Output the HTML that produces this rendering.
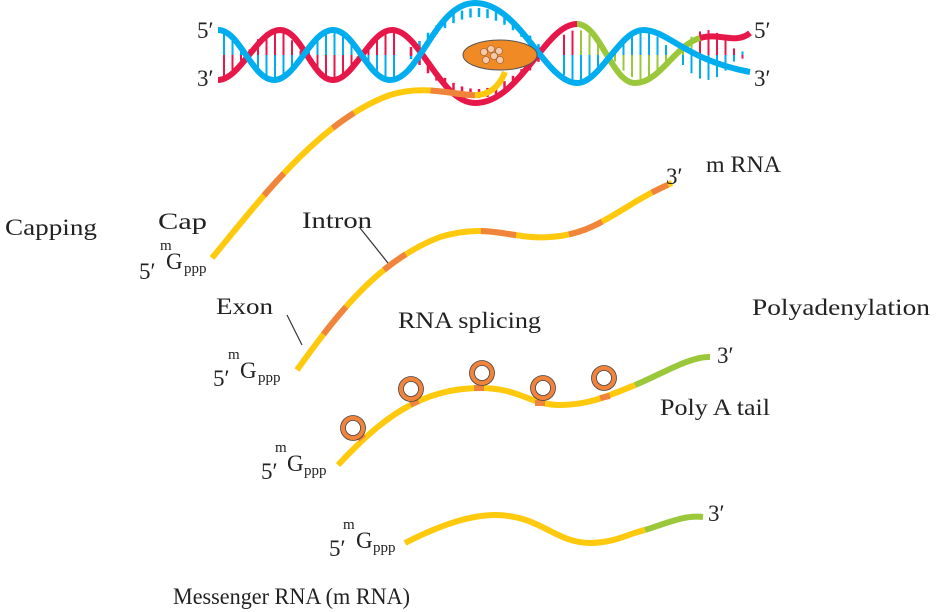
<!DOCTYPE html>
<html><head><meta charset="utf-8"><style>
body{margin:0;background:#fff}
svg{display:block}
text{font-family:"Liberation Serif",serif;fill:#222}
</style></head><body>
<svg id="s" width="940" height="612" viewBox="0 0 940 612" xmlns="http://www.w3.org/2000/svg">
<g id="rungs"></g>
<!-- DNA strands -->
<path d="M218,80 C240,80 258,30 280,30 C302,30 312,80 333,80 C354,80 370,30 392,30 C420,30 440,103 475,103 C520,103 545,24 577,24" fill="none" stroke="#E8174A" stroke-width="6"/>
<path d="M577,24 C600,24 612,83 635,83 C660,83 675,45 700,38" fill="none" stroke="#9AC83A" stroke-width="6"/>
<path d="M700,38 C720,32 735,45 750,33" fill="none" stroke="#E8174A" stroke-width="6"/>
<path d="M218,30 C240,30 252,80 274,80 C296,80 311,30 333,30 C355,30 368,80 390,80 C420,80 435,3 475,3 C520,3 545,83 577,83 C600,83 620,30 643,30 C668,30 685,60 750,72" fill="none" stroke="#00AEEF" stroke-width="6"/>
<!-- polymerase -->
<ellipse cx="500" cy="55" rx="37" ry="15" fill="#F08A24" stroke="#555" stroke-width="1"/>
<g fill="#F7C9A8" stroke="#8a5a3a" stroke-width="0.6">
<circle cx="484" cy="52" r="3.5"/><circle cx="491" cy="49" r="3.5"/><circle cx="499" cy="51" r="3.5"/><circle cx="494" cy="56" r="3.5"/><circle cx="486" cy="60" r="3.5"/><circle cx="500" cy="60" r="3.5"/></g>
<!-- transcript 1 -->
<path d="M212,258 C260,200 320,120 390,95 C420,86 440,92 470,95 C490,97 500,85 505,72" fill="none" stroke="#FFC90D" stroke-width="6" pathLength="100"/>
<path d="M212,258 C260,200 320,120 390,95 C420,86 440,92 470,95 C490,97 500,85 505,72" fill="none" stroke="#F0843C" stroke-width="6" pathLength="100" stroke-dasharray="0 22 8 18 7 22 12 12 6 100"/>
<!-- transcript 2 -->
<path d="M297,370 C340,310 380,260 440,237 C490,222 510,240 550,237 C600,234 620,205 672,183" fill="none" stroke="#FFC90D" stroke-width="6" pathLength="100"/>
<path d="M297,370 C340,310 380,260 440,237 C490,222 510,240 550,237 C600,234 620,205 672,183" fill="none" stroke="#F0843C" stroke-width="6" pathLength="100" stroke-dasharray="0 10 8 12 6 18 8 12 8 13 4 100"/>
<line x1="287" y1="315" x2="302" y2="345" stroke="#333" stroke-width="1.2"/>
<line x1="360" y1="228" x2="388" y2="263" stroke="#333" stroke-width="1.2"/>
<!-- transcript 3 -->
<path d="M338,465 C380,420 420,388 480,388 C520,388 530,405 560,405 C590,405 610,395 635,385" fill="none" stroke="#FFC90D" stroke-width="6"/>
<path d="M635,385 C660,375 690,356 710,357" fill="none" stroke="#9AC83A" stroke-width="6"/>
<g fill="#F0843C">
<rect x="356" y="433" width="8" height="7" transform="rotate(-40 360 436)"/>
<rect x="410" y="400" width="9" height="6" transform="rotate(-25 414 403)"/>
<rect x="474" y="385" width="10" height="6"/>
<rect x="535" y="400" width="10" height="6"/>
<rect x="600" y="394" width="10" height="6" transform="rotate(-12 605 397)"/>
</g>
<g fill="#fff" stroke="#F0843C" stroke-width="5">
<circle cx="353" cy="428" r="10"/><circle cx="411" cy="389" r="10"/><circle cx="482" cy="373" r="10"/><circle cx="543" cy="388" r="10"/><circle cx="604" cy="378" r="10"/></g>
<g fill="none" stroke="#444" stroke-width="0.8">
<circle cx="353" cy="428" r="12.5"/><circle cx="411" cy="389" r="12.5"/><circle cx="482" cy="373" r="12.5"/><circle cx="543" cy="388" r="12.5"/><circle cx="604" cy="378" r="12.5"/>
<circle cx="353" cy="428" r="7.5"/><circle cx="411" cy="389" r="7.5"/><circle cx="482" cy="373" r="7.5"/><circle cx="543" cy="388" r="7.5"/><circle cx="604" cy="378" r="7.5"/></g>
<!-- transcript 4 -->
<path d="M405,543 C440,525 470,515 495,515 C540,515 555,543 590,543 C615,543 630,533 645,530" fill="none" stroke="#FFC90D" stroke-width="6"/>
<path d="M645,530 C670,522 685,515 703,517" fill="none" stroke="#9AC83A" stroke-width="6"/>
<!-- labels -->
<g font-size="23">
<text x="197" y="38">5′</text><text x="197" y="86">3′</text>
<text x="754" y="38">5′</text><text x="754" y="86">3′</text>
<text x="5" y="235" textLength="92" lengthAdjust="spacingAndGlyphs">Capping</text>
<text x="158" y="229" textLength="49" lengthAdjust="spacingAndGlyphs">Cap</text>
<text x="139" y="279">5′</text><text x="166" y="269">G</text>
<text x="302" y="228" textLength="70" lengthAdjust="spacingAndGlyphs">Intron</text>
<text x="666" y="184">3′</text><text x="706" y="172" textLength="75" lengthAdjust="spacingAndGlyphs">m RNA</text>
<text x="216" y="314" textLength="57" lengthAdjust="spacingAndGlyphs">Exon</text>
<text x="398" y="328" textLength="143" lengthAdjust="spacingAndGlyphs">RNA splicing</text>
<text x="752" y="315" textLength="178" lengthAdjust="spacingAndGlyphs">Polyadenylation</text>
<text x="213" y="386">5′</text><text x="240" y="378">G</text>
<text x="717" y="363">3′</text>
<text x="660" y="415" textLength="110" lengthAdjust="spacingAndGlyphs">Poly A tail</text>
<text x="261" y="479">5′</text><text x="287" y="471">G</text>
<text x="329" y="556">5′</text><text x="356" y="548">G</text>
<text x="708" y="521">3′</text>
<text x="173" y="604" textLength="237" lengthAdjust="spacingAndGlyphs">Messenger RNA (m RNA)</text>
</g>
<g font-size="15">
<text x="160" y="250">m</text><text x="184" y="273">ppp</text>
<text x="228" y="359">m</text><text x="258" y="382">ppp</text>
<text x="275" y="452">m</text><text x="304" y="475">ppp</text>
<text x="343" y="529">m</text><text x="373" y="552">ppp</text>
</g>
</svg>
<script>
(function(){
var g=document.getElementById('rungs'),h='';
for(var x=224;x<748;x+=8.5){
 if(x>395&&x<560){
  var t=(x-395)/165;var yb=3+(1-Math.sin(Math.PI*t))*60;var yr=103-(1-Math.sin(Math.PI*t))*60;
  if(x>410&&x<545){h+='<line x1="'+x+'" y1="'+(yb+5)+'" x2="'+x+'" y2="'+(yb+14)+'" stroke="#00AEEF" stroke-width="2.5"/>';
  h+='<line x1="'+x+'" y1="'+(yr-14)+'" x2="'+x+'" y2="'+(yr-5)+'" stroke="#E8174A" stroke-width="2.5"/>';}
  continue;}
 var c=(x<395)?Math.cos(2*Math.PI*(x-216)/117):Math.cos(2*Math.PI*(x-577)/130);
 var a=55-25*Math.abs(c),b=55+25*Math.abs(c);
 var top=(x<395?(c>0?'#00AEEF':'#E8174A'):(c>0?'#E8174A':'#00AEEF'));
 var bot=top=='#00AEEF'?'#E8174A':'#00AEEF';
 if(x>577&&x<700){if(top=='#E8174A')top='#9AC83A';else bot='#9AC83A';}
 h+='<line x1="'+x+'" y1="'+a+'" x2="'+x+'" y2="55" stroke="'+top+'" stroke-width="2"/>';
 h+='<line x1="'+x+'" y1="55" x2="'+x+'" y2="'+b+'" stroke="'+bot+'" stroke-width="2"/>';
}
g.innerHTML=h;
})();
</script>
</body></html>
